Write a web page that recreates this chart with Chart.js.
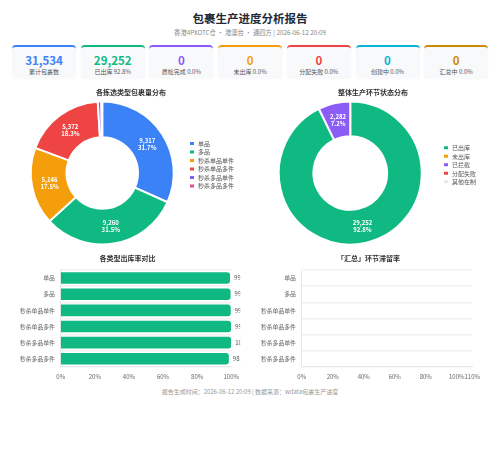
<!DOCTYPE html>
<html><head><meta charset="utf-8">
<script src="https://cdn.jsdelivr.net/npm/chart.js@4/dist/chart.umd.min.js"></script>
<style>
body{margin:0;width:500px;height:453px;background:#fff;font-family:"Noto Sans CJK SC","Noto Sans",sans-serif;position:relative;overflow:hidden}
.abs{position:absolute}
#title{left:0;width:500px;top:10px;text-align:center;font-size:11.5px;font-weight:bold;color:#1f2937;line-height:16px}
#sub{left:0;width:500px;top:28px;text-align:center;font-size:6.3px;color:#888;line-height:9px}
.card{position:absolute;top:45px;width:64px;height:34px;background:#f8f9fb;border-radius:4px;box-sizing:border-box;border-top:2px solid;text-align:center;box-shadow:0 0 1px rgba(0,0,0,0.08)}
.card .v{position:absolute;left:0;right:0;top:6px;font-size:11.5px;font-weight:bold;line-height:14px}
.card .l{position:absolute;left:0;right:0;top:21px;font-size:6px;color:#555;line-height:8px}
#foot{left:0;width:500px;top:388px;text-align:center;font-size:6px;color:#999;line-height:8px}
canvas{position:absolute}
</style></head>
<body>
<div id="title" class="abs">包裹生产进度分析报告</div>
<div id="sub" class="abs">香港4PXOTC仓 · 港澳台 · 通四方 | 2026-06-12 20:09</div>
<div id="cards"></div>
<canvas id="c1" width="234" height="164" style="left:12px;top:84px"></canvas>
<canvas id="c2" width="234" height="164" style="left:254px;top:84px"></canvas>
<canvas id="c3" width="231" height="136" style="left:14px;top:250px"></canvas>
<canvas id="c4" width="231" height="136" style="left:255px;top:250px"></canvas>
<div id="foot" class="abs">报告生成时间：2026-06-12 20:09 | 数据来源：wdata包裹生产进度</div>
<script>
// ---- data ----
const kpiValues = [31534, 29252, 0, 0, 0, 0, 0];
const kpiLabels = ['累计包裹数', '已出库', '质检完成', '未出库', '分配失败', '创建中', '汇总中'];
const kpiPcts = [null, 92.8, 0.0, 0.0, 0.0, 0.0, 0.0];
const typeCategories = ['单品', '多品', '秒杀单品单件', '秒杀单品多件', '秒杀多品单件', '秒杀多品多件'];
const typeCounts = [9317, 9260, 5146, 5372, 240, 55];
const stageLabels = ['已出库', '未出库', '已拦截', '分配失败', '其他在制'];
const stageCounts = [29252, 0, 2282, 0, 0];
const outboundRates = [99.3, 99.6, 99.7, 99.9, 100.0, 98.6];
const stuckRates = [0, 0, 0, 0, 0, 0];
const rateTicksLeft = [0, 20, 40, 60, 80, 100];
const rateTicksRight = [0, 20, 40, 60, 80, 100, 110];

// ---- styles ----
const kpiColors = ['#3b82f6', '#10b981', '#8b5cf6', '#f59e0b', '#ef4444', '#06b6d4', '#ca8a04'];
const typeColors = ['#3b82f6', '#10b981', '#f59e0b', '#ef4444', '#8b5cf6', '#ec4899'];
const stageColors = ['#10b981', '#f59e0b', '#8b5cf6', '#ef4444', '#e5e7eb'];
const FONT = '"Noto Sans CJK SC","Noto Sans",sans-serif';

// KPI cards
const cardsEl = document.getElementById('cards');
kpiValues.forEach((v, i) => {
  const d = document.createElement('div');
  d.className = 'card';
  d.style.left = (12 + i * 68.7) + 'px';
  d.style.borderTopColor = kpiColors[i];
  const lab = kpiPcts[i] === null ? kpiLabels[i] : kpiLabels[i] + ' ' + kpiPcts[i].toFixed(1) + '%';
  d.innerHTML = '<div class="v" style="color:' + kpiColors[i] + '">' + v.toLocaleString('en-US') + '</div><div class="l">' + lab + '</div>';
  cardsEl.appendChild(d);
});

Chart.defaults.font.family = FONT;
Chart.defaults.devicePixelRatio = 1;

const arcLabels = {
  id: 'arcLabels',
  afterDatasetsDraw(chart) {
    if (chart.config.type !== 'doughnut') return;
    const ctx = chart.ctx;
    const ds = chart.data.datasets[0];
    const total = ds.data.reduce((a, b) => a + b, 0);
    chart.getDatasetMeta(0).data.forEach((arc, i) => {
      const v = ds.data[i];
      const p = v / total * 100;
      if (p < 5) return;
      const pos = arc.tooltipPosition();
      ctx.save();
      ctx.fillStyle = '#fff';
      ctx.font = 'bold 6px ' + FONT;
      ctx.textAlign = 'center';
      ctx.textBaseline = 'middle';
      ctx.fillText(v.toLocaleString('en-US'), pos.x, pos.y - 3.5);
      ctx.fillText(p.toFixed(1) + '%', pos.x, pos.y + 3.5);
      ctx.restore();
    });
  }
};

const barLabels = {
  id: 'barLabels',
  afterDatasetsDraw(chart) {
    if (chart.config.type !== 'bar') return;
    const ctx = chart.ctx;
    const ds = chart.data.datasets[0];
    const a = chart.chartArea;
    ctx.save();
    ctx.beginPath();
    ctx.rect(0, 0, a.right + 9, chart.height);
    ctx.clip();
    chart.getDatasetMeta(0).data.forEach((bar, i) => {
      const v = ds.data[i];
      if (!v) return;
      ctx.fillStyle = '#555';
      ctx.font = '6px ' + FONT;
      ctx.textAlign = 'left';
      ctx.textBaseline = 'middle';
      ctx.fillText(v.toFixed(1) + '%', bar.x + 4, bar.y);
    });
    ctx.restore();
  }
};

function donut(id, labels, data, colors, title, pad, cutout) {
  new Chart(document.getElementById(id), {
    type: 'doughnut',
    data: { labels: labels, datasets: [{ data: data, backgroundColor: colors, borderColor: '#fff', borderWidth: 2 }] },
    options: {
      responsive: false, animation: false, cutout: cutout,
      layout: { padding: pad },
      plugins: {
        title: { display: true, text: title, color: '#333', font: { size: 7, weight: 'bold' }, padding: { top: 4.5, bottom: 3.6 } },
        legend: { position: 'right', labels: { boxWidth: 6, boxHeight: 5, padding: 2.5, color: '#555', font: { size: 6 } } },
        tooltip: { enabled: false }
      }
    },
    plugins: [arcLabels]
  });
}

donut('c1', typeCategories, typeCounts, typeColors, '各拣选类型包裹量分布', { left: 6, right: 2, top: 0, bottom: 2.5 }, '50%');
donut('c2', stageLabels, stageCounts, stageColors, '整体生产环节状态分布', { left: 6, right: 2, top: 0, bottom: 2.5 }, '51.5%');

function hbar(id, data, title, tickVals, maxV) {
  new Chart(document.getElementById(id), {
    type: 'bar',
    data: { labels: typeCategories, datasets: [{ data: data, backgroundColor: '#10b981', borderRadius: 3, barPercentage: 0.9, categoryPercentage: 0.8 }] },
    options: {
      indexAxis: 'y', responsive: false, animation: false,
      layout: { autoPadding: false, padding: { right: 4, bottom: 0, top: 0, left: 0 } },
      scales: {
        x: {
          min: 0, max: maxV,
          afterBuildTicks(scale) { scale.ticks = tickVals.map(v => ({ value: v })); },
          ticks: { callback: v => v + '%', font: { size: 6 }, color: '#666', padding: 6, maxRotation: 0, autoSkip: false },
          grid: { display: false, drawTicks: false },
          border: { color: '#e5e7eb' }
        },
        y: {
          ticks: { font: { size: 5.8 }, color: '#666', padding: 6 },
          grid: { color: '#f0f0f0', lineWidth: 1.5, drawTicks: false },
          border: { color: '#e5e7eb' }
        }
      },
      plugins: {
        title: { display: true, text: title, color: '#333', font: { size: 7, weight: 'bold' }, padding: { top: 4, bottom: 7.6 } },
        legend: { display: false },
        tooltip: { enabled: false }
      }
    },
    plugins: [barLabels]
  });
}

hbar('c3', outboundRates, '各类型出库率对比', rateTicksLeft, 100);
hbar('c4', stuckRates, '「汇总」环节滞留率', rateTicksRight, 110);
</script>
</body></html>
